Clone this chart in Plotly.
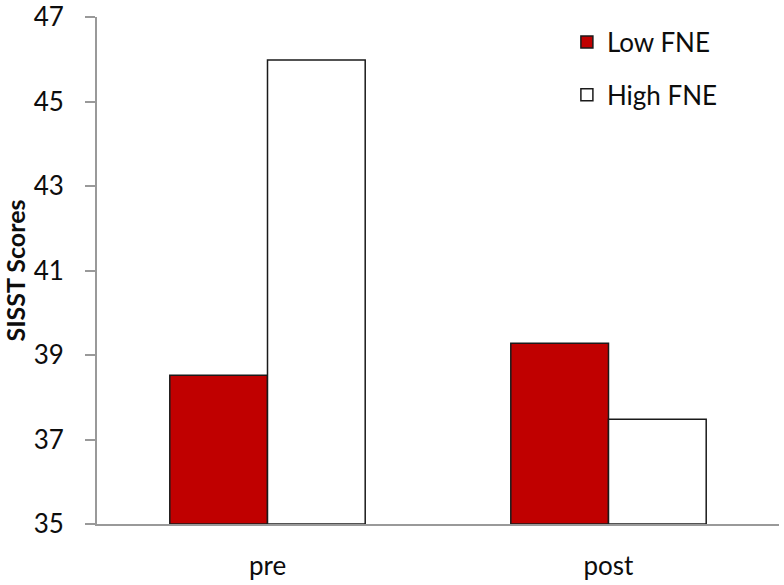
import plotly.graph_objects as go

categories = ["pre", "post"]
low_fne = [38.52, 39.28]
high_fne = [45.98, 37.48]
y_ticks = [35, 37, 39, 41, 43, 45, 47]
BASE = 35

FONT = "Lato"
TXT = "#0d0d0d"
fig = go.Figure()
fig.add_trace(go.Bar(
    x=categories, y=[v - BASE for v in low_fne], base=BASE,
    name="Low FNE", legendgroup="a",
    marker=dict(color="#C00000", line=dict(color="#1a1a1a", width=1.5)),
))
fig.add_trace(go.Bar(
    x=categories, y=[v - BASE for v in high_fne], base=BASE,
    name="High FNE", legendgroup="b",
    marker=dict(color="#FFFFFF", line=dict(color="#1a1a1a", width=1.5)),
))

fig.update_layout(
    width=784, height=585,
    margin=dict(l=97, r=5, t=17, b=61),
    paper_bgcolor="white", plot_bgcolor="white",
    barmode="group", bargap=0.427, bargroupgap=0,
    font=dict(family=FONT, size=26, color=TXT),
    showlegend=True,
    legend=dict(x=0.689, y=0.997, xanchor="left", yanchor="top",
                xref="paper", yref="paper",
                font=dict(family=FONT, size=26, color=TXT),
                traceorder="grouped", tracegroupgap=16,
                bgcolor="rgba(0,0,0,0)"),
    xaxis=dict(showline=True, linecolor="#999999", linewidth=2,
               ticks="", showgrid=False, zeroline=False, automargin=False,
               ticklabelstandoff=18,
               tickfont=dict(family=FONT, size=26, color=TXT)),
    yaxis=dict(range=[35, 47], tickvals=y_ticks, automargin=False,
               showline=True, linecolor="#999999", linewidth=2,
               ticks="outside", ticklen=10, tickcolor="#999999", tickwidth=2,
               showgrid=False, zeroline=False, ticklabelstandoff=16,
               tickfont=dict(family=FONT, size=26, color=TXT),
               title=dict(text="<b>SISST Scores</b>", standoff=10,
                          font=dict(family=FONT, size=25, color=TXT))),
)
# remove the browser's default 8px body margin so the figure fills the window
fig.write_html("out.html",
               config={"displayModeBar": False},
               post_script="document.body.style.margin='0px';")
